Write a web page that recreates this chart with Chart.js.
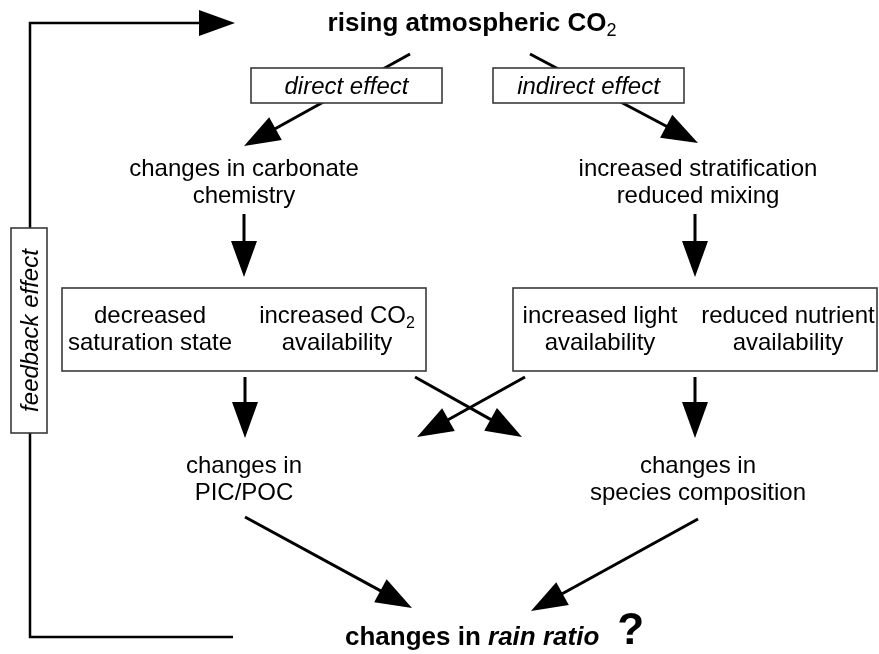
<!DOCTYPE html>
<html><head><meta charset="utf-8">
<script src="https://cdn.jsdelivr.net/npm/chart.js@4"></script>
<style>html,body{margin:0;padding:0;background:#fff}#wrap{width:879px;height:654px}</style>
</head><body><div id="wrap"><canvas id="c" width="879" height="654"></canvas></div>
<script>
// ---- diagram content ----
const titleText = 'rising atmospheric CO_2';
const titleAnchor = [472, 31];
const resultRuns = ['changes in ', 'rain ratio', '?'];
const resultAnchor = [345, 645];

const nodeLabels = [
  'changes in carbonate\nchemistry',
  'increased stratification\nreduced mixing',
  'decreased\nsaturation state',
  'increased CO_2\navailability',
  'increased light\navailability',
  'reduced nutrient\navailability',
  'changes in\nPIC/POC',
  'changes in\nspecies composition'
];
const nodeX = [244, 698, 150, 337, 600, 788, 244, 698];
const nodeY = [176, 176, 323, 323, 323, 323, 473, 473];

const boxLabels = ['direct effect', 'indirect effect', '', '', 'feedback effect'];
const boxLeft   = [251, 493, 62, 513, 11];
const boxRight  = [442, 684, 426, 877, 47];
const boxTop    = [68, 68, 288, 288, 228];
const boxBottom = [103, 103, 371, 371, 433];

const arrowFrom = [[410,54],[530,54],[244,214],[695,214],[245,377],[695,377],[415,377],[525,377],[245,517],[698,519]];
const arrowTo   = [[244,146],[698,143],[244,277],[695,277],[245,438],[695,438],[522,437],[417,437],[412,608],[531,611]];
const feedbackPath = [[233,637],[30,637],[30,23],[235,23]];

// ---- rendering ----
const FONT = "'Liberation Sans', Arial, Helvetica, sans-serif";
const HEAD_LEN = 36, HEAD_HALF = 13;

function shorten(from, to, len) {
  const dx = to[0]-from[0], dy = to[1]-from[1], d = Math.hypot(dx, dy);
  return [to[0]-dx/d*len, to[1]-dy/d*len];
}
const pts = a => a.map(p => ({x:p[0], y:p[1]}));

const datasets = arrowFrom.map((f, i) => ({
  data: pts([f, shorten(f, arrowTo[i], HEAD_LEN-4)]),
  showLine: true, borderColor: '#000', borderWidth: 3, pointRadius: 0, borderCapStyle: 'butt'
}));
const fb = feedbackPath.slice(0, 3).concat([shorten(feedbackPath[2], feedbackPath[3], HEAD_LEN-4)]);
datasets.push({ data: pts(fb), showLine: true, borderColor: '#000', borderWidth: 2.5, pointRadius: 0,
  borderJoinStyle: 'miter', borderCapStyle: 'butt', tension: 0 });

function font(size, weight, style) { return (style||'normal') + ' ' + (weight||'normal') + ' ' + size + 'px ' + FONT; }

function drawRich(ctx, str, x, y, size, weight, style, align) {
  const parts = str.split(/_(\w)/);
  const runs = parts.map((t, i) => i % 2 ? {t, f: font(Math.round(size*0.68), 'normal', style), dy: size*0.2}
                                          : {t, f: font(size, weight, style), dy: 0});
  let total = 0;
  runs.forEach(r => { ctx.font = r.f; r.w = ctx.measureText(r.t).width; total += r.w; });
  let cx = align === 'left' ? x : x - total/2;
  ctx.textAlign = 'left'; ctx.textBaseline = 'alphabetic';
  runs.forEach(r => { ctx.font = r.f; ctx.fillText(r.t, cx, y + r.dy); cx += r.w; });
}

const diagram = {
  id: 'diagram',
  afterDatasetsDraw(chart) {
    const ctx = chart.ctx, sx = chart.scales.x, sy = chart.scales.y;
    const px = v => sx.getPixelForValue(v), py = v => sy.getPixelForValue(v);
    ctx.save();
    // arrow heads
    const heads = arrowFrom.map((f, i) => [f, arrowTo[i]]);
    heads.push([feedbackPath[2], feedbackPath[3]]);
    ctx.fillStyle = '#000';
    heads.forEach(([f, t]) => {
      const x0 = px(f[0]), y0 = py(f[1]), x1 = px(t[0]), y1 = py(t[1]);
      const d = Math.hypot(x1-x0, y1-y0), ux = (x1-x0)/d, uy = (y1-y0)/d;
      const bx = x1 - ux*HEAD_LEN, by = y1 - uy*HEAD_LEN;
      ctx.beginPath();
      ctx.moveTo(x1, y1);
      ctx.lineTo(bx - uy*HEAD_HALF, by + ux*HEAD_HALF);
      ctx.lineTo(bx + uy*HEAD_HALF, by - ux*HEAD_HALF);
      ctx.closePath();
      ctx.fill();
    });
    // boxes
    boxLabels.forEach((lab, i) => {
      const l = px(boxLeft[i]), r = px(boxRight[i]), t = py(boxTop[i]), b = py(boxBottom[i]);
      ctx.fillStyle = '#fff';
      ctx.fillRect(l, t, r-l, b-t);
      ctx.strokeStyle = '#3a3a3a'; ctx.lineWidth = 1.6;
      ctx.strokeRect(l, t, r-l, b-t);
      if (!lab) return;
      ctx.fillStyle = '#000';
      if (b - t > r - l) {
        ctx.save();
        ctx.translate((l+r)/2 + 9, (t+b)/2);
        ctx.rotate(-Math.PI/2);
        drawRich(ctx, lab, 0, 0, 24, 'normal', 'italic', 'center');
        ctx.restore();
      } else {
        drawRich(ctx, lab, (l+r)/2, (t+b)/2 + 8.5, 24, 'normal', 'italic', 'center');
      }
    });
    // node texts
    ctx.fillStyle = '#000';
    nodeLabels.forEach((lab, i) => {
      lab.split('\n').forEach((line, k) => drawRich(ctx, line, px(nodeX[i]), py(nodeY[i]) + k*27, 24, 'normal', 'normal', 'center'));
    });
    // title
    drawRich(ctx, titleText, px(titleAnchor[0]), py(titleAnchor[1]), 26, 'bold', 'normal', 'center');
    // result
    let x = px(resultAnchor[0]); const y = py(resultAnchor[1]);
    ctx.textAlign = 'left'; ctx.textBaseline = 'alphabetic';
    ctx.font = font(26, 'bold'); ctx.fillText(resultRuns[0], x, y); x += ctx.measureText(resultRuns[0]).width;
    ctx.font = font(26, 'bold', 'italic'); ctx.fillText(resultRuns[1], x, y); x += ctx.measureText(resultRuns[1]).width;
    ctx.font = font(44, 'bold'); ctx.fillText(resultRuns[2], x + 18, y - 1);
    ctx.restore();
  }
};

new Chart(document.getElementById('c'), {
  type: 'scatter',
  data: { datasets },
  options: {
    responsive: false, animation: false, devicePixelRatio: 1,
    layout: { padding: 0 },
    plugins: { legend: { display: false }, tooltip: { enabled: false } },
    events: [],
    scales: {
      x: { type: 'linear', min: 0, max: 879, display: false },
      y: { type: 'linear', min: 0, max: 654, reverse: true, display: false }
    }
  },
  plugins: [diagram]
});
</script></body></html>
